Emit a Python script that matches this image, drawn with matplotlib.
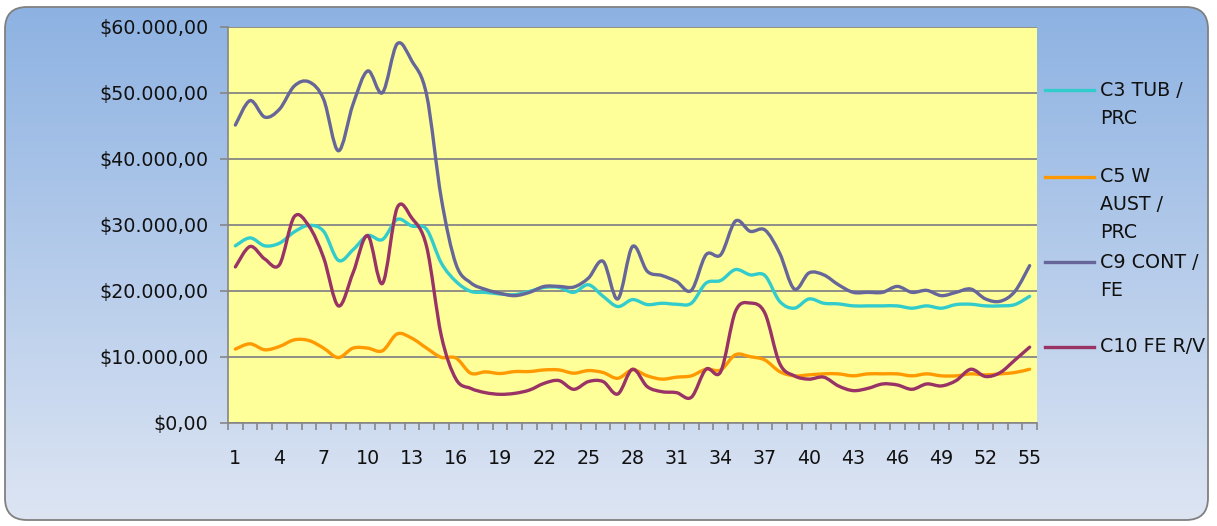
import matplotlib
matplotlib.use("Agg")
import matplotlib.pyplot as plt
import numpy as np
from matplotlib.path import Path
from matplotlib.patches import PathPatch, FancyBboxPatch
from matplotlib.lines import Line2D
from matplotlib.ticker import FuncFormatter, FixedLocator

plt.rcParams['font.family'] = ['DejaVu Sans']

# Category axis: weeks 1..55
periods = list(range(1, 56))
tick_labels = [str(p) for p in periods[::3]]

c3_tub_prc = [26800, 28000, 26800, 27200, 28900, 29900, 29000, 24600, 26200, 28350,
              27750, 30800, 29800, 29300, 24200, 21400, 19900, 19750, 19500, 19400,
              19900, 20500, 20500, 19750, 20900, 19150, 17600, 18650, 17900, 18100,
              17950, 18100, 21150, 21550, 23200, 22400, 22300, 18400, 17350, 18750,
              18100, 18000, 17700, 17700, 17700, 17700, 17350, 17700, 17350, 17900,
              17950, 17700, 17700, 17900, 19150]

c5_w_aust_prc = [11150, 11950, 11050, 11550, 12550, 12450, 11300, 9870, 11300, 11300,
                 10900, 13450, 12800, 11300, 9900, 9800, 7500, 7700, 7450, 7750,
                 7750, 8000, 8000, 7500, 7900, 7600, 6730, 8000, 7100, 6600,
                 6900, 7100, 8100, 8000, 10300, 10000, 9500, 7750, 7100, 7250,
                 7400, 7400, 7100, 7400, 7400, 7400, 7100, 7400, 7100, 7100,
                 7400, 7250, 7400, 7600, 8100]

c9_cont_fe = [45100, 48800, 46300, 47500, 51000, 51650, 49000, 41200, 48250, 53300,
              50000, 57400, 54800, 49700, 34000, 24000, 21200, 20200, 19600, 19250,
              19750, 20650, 20650, 20550, 21900, 24450, 18750, 26700, 22950, 22300,
              21400, 20050, 25450, 25450, 30550, 29000, 29200, 25700, 20250, 22700,
              22400, 20900, 19750, 19750, 19750, 20650, 19750, 20050, 19250, 19750,
              20250, 18750, 18400, 19900, 23800]

c10_fe_rv = [23600, 26700, 24800, 23950, 31200, 29800, 25000, 17700, 22700, 28350,
             21100, 32550, 31000, 26700, 13200, 6600, 5200, 4550, 4300, 4450,
             4950, 5970, 6380, 5060, 6230, 6230, 4350, 8100, 5470, 4700,
             4550, 3850, 8100, 7750, 16860, 18130, 16600, 9000, 7100, 6600,
             6900, 5570, 4860, 5200, 5870, 5720, 5060, 5870, 5570, 6380,
             8100, 7000, 7600, 9500, 11450]

series_names = ["C3 TUB /\nPRC", "C5 W\nAUST /\nPRC", "C9 CONT /\nFE", "C10 FE R/V"]
series_values = [c3_tub_prc, c5_w_aust_prc, c9_cont_fe, c10_fe_rv]
series_colors = ["#33CCCC", "#FF9900", "#666699", "#993366"]

W, H = 1217, 526
FS = 13.7
fig = plt.figure(figsize=(W / 100, H / 100), dpi=100)

# Rounded gradient backdrop
bg = fig.add_axes([0, 0, 1, 1])
bg.set_xlim(0, W)
bg.set_ylim(H, 0)
bg.axis("off")
frame = FancyBboxPatch((5, 7), 1203, 513, boxstyle="round,pad=0,rounding_size=22",
                       facecolor="none", edgecolor="#808080", linewidth=1.3, zorder=3)
top = np.array([141, 178, 226]) / 255
bot = np.array([221, 229, 243]) / 255
t = np.linspace(0, 1, 256)[:, None]
grad = (top[None, :] * (1 - t) + bot[None, :] * t)[:, None, :]
im = bg.imshow(grad, extent=(5, 1208, 520, 7), aspect="auto", zorder=1)
bg.add_patch(frame)
im.set_clip_path(frame)

# Plot area
x0, x1, ytop, ybot = 228, 1037, 26.7, 422.7
ax = fig.add_axes([x0 / W, 1 - ybot / H, (x1 - x0) / W, (ybot - ytop) / H])
ax.set_facecolor("#FFFF99")
ax.set_xlim(0.5, 55.5)
ax.set_ylim(0, 60000)

for s in ["top", "right"]:
    ax.spines[s].set_visible(False)
for s in ["left", "bottom"]:
    ax.spines[s].set_color("#868686")
    ax.spines[s].set_linewidth(1.2)

ax.yaxis.set_major_locator(FixedLocator(np.arange(0, 60001, 10000)))
ax.yaxis.set_major_formatter(FuncFormatter(
    lambda v, p: "$" + f"{v:,.2f}".replace(",", "X").replace(".", ",").replace("X", ".")))
ax.tick_params(axis="y", direction="out", length=6, width=1.2, color="#868686",
               labelsize=FS, pad=8, labelcolor="#111111")
ax.grid(axis="y", color="#868686", linewidth=1.3, zorder=1)
ax.set_axisbelow(True)

# Boundary ticks between categories, labels every third category
ax.xaxis.set_major_locator(FixedLocator(np.arange(0.5, 56, 1)))
ax.xaxis.set_major_formatter(FuncFormatter(lambda v, p: ""))
ax.xaxis.set_minor_locator(FixedLocator(periods[::3]))
ax.set_xticklabels(tick_labels, minor=True)
ax.tick_params(axis="x", which="major", direction="out", length=5, width=1.2,
               color="#868686")
ax.tick_params(axis="x", which="minor", length=0, labelsize=FS, pad=19,
               labelcolor="#111111")


def smooth_path(xs, ys):
    pts = np.column_stack([xs, ys]).astype(float)
    n = len(pts)
    verts = [pts[0]]
    codes = [Path.MOVETO]
    for i in range(n - 1):
        p0 = pts[i - 1] if i > 0 else pts[i]
        p1 = pts[i]
        p2 = pts[i + 1]
        p3 = pts[i + 2] if i + 2 < n else pts[i + 1]
        c1 = p1 + (p2 - p0) / 6.0
        c2 = p2 - (p3 - p1) / 6.0
        verts += [c1, c2, p2]
        codes += [Path.CURVE4] * 3
    return Path(verts, codes)


for vals, col in zip(series_values, series_colors):
    patch = PathPatch(smooth_path(periods, vals), facecolor="none", edgecolor=col,
                      linewidth=2.4, capstyle="round", joinstyle="round", zorder=3)
    ax.add_patch(patch)

# Legend on the right
legend_rows = [90, 177, 262, 347]
line_step = 28
for name, col, yc in zip(series_names, series_colors, legend_rows):
    bg.add_line(Line2D([1045, 1094], [yc, yc], color=col, linewidth=2.4, zorder=4))
    for k, part in enumerate(name.split("\n")):
        bg.text(1100, yc + k * line_step, part, fontsize=FS, color="#111111",
                ha="left", va="center", zorder=4)

fig.savefig("out.png", dpi=100)
